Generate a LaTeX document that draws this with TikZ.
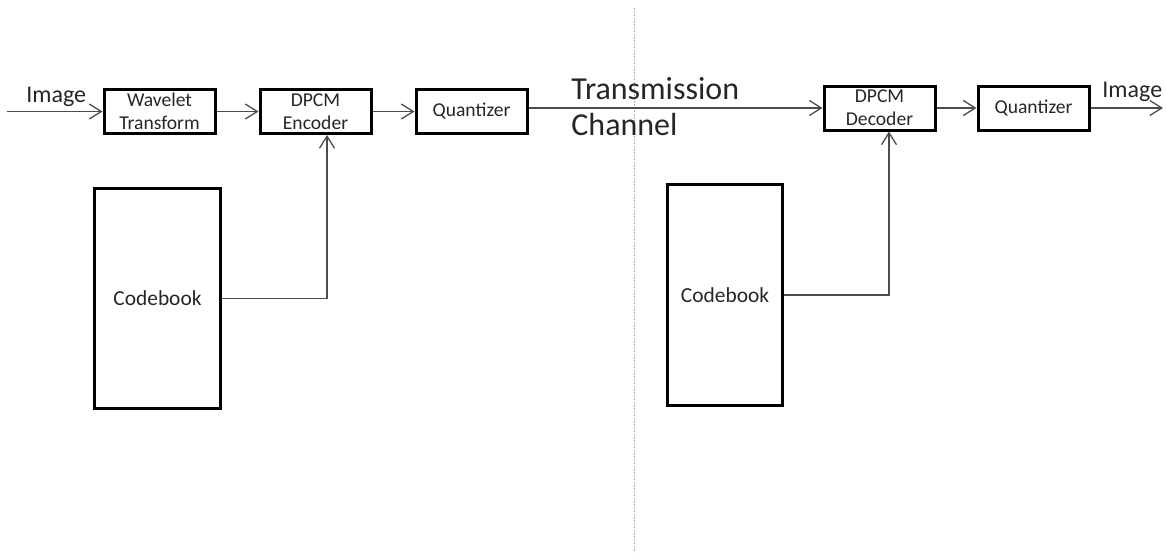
\documentclass[tikz,border=0pt]{standalone}
\usepackage{fontspec}
\setmainfont{Carlito}
\usetikzlibrary{arrows.meta, positioning}

\tikzset{
  block/.style={draw, line width=1.5pt, minimum width=55.5pt, minimum height=22pt,
    inner xsep=2pt, inner ysep=0pt, align=center, text=black!85,
    font=\fontsize{9.8}{11.5}\selectfont},
  codebook/.style={draw, line width=1.5pt, minimum height=110pt, align=center,
    text=black!85, font=\fontsize{10.7}{13}\selectfont},
  wire/.style={line width=0.65pt, draw=black!70},
  arrowline/.style={wire, -{Straight Barb[length=6pt, width=7.5pt]}},
  chantext/.style={font=\fontsize{16}{18}\selectfont, text=black!85, inner sep=0pt, anchor=base west},
  iotext/.style={font=\fontsize{12}{14}\selectfont, text=black!85, inner sep=0pt, anchor=base west},
  sepline/.style={line width=0.5pt, draw=black!30, dash pattern=on 1pt off 0.6pt},
}

\begin{document}
\begin{tikzpicture}[x=0.5pt, y=-0.5pt]
\useasboundingbox (0,0) rectangle (1166,558);

% divider between sender and receiver
\draw[sepline] (634,8) -- (634,552);

% sender side
\node[block] (wavelet) at (159.5,111.5) {Wavelet\\Transform};
\node[block, right=21pt of wavelet] (encoder) {DPCM\\Encoder};
\node[block, right=21pt of encoder] (quant) {Quantizer};
\node[codebook, minimum width=63pt] (cbenc) at (157.5,298.5) {Codebook};

% receiver side
\node[block] (decoder) at (879.5,108) {DPCM\\Decoder};
\node[block, right=20pt of decoder] (dequant) {Quantizer};
\node[codebook, minimum width=57.5pt, minimum height=110.5pt] (cbdec) at (725,295) {Codebook};

\coordinate (imgin) at (7,111.5);
\coordinate (imgout) at (1163,108);
\node[iotext] (inlabel) at (26,102) {Image};
\node[iotext] (outlabel) at (1102,97) {Image};
\node[chantext] (trans) at (571,99) {Transmission};
\node[chantext] (chan) at (571,135) {Channel};

\draw[arrowline] (imgin) -- (wavelet);
\draw[arrowline] (wavelet) -- (encoder);
\draw[arrowline] (encoder) -- (quant);
\draw[arrowline] (quant.east |- decoder.west) -- (decoder);
\draw[arrowline] (decoder) -- (dequant);
\draw[arrowline] (dequant) -- (imgout);
\draw[arrowline] (cbenc) -| ([xshift=5.75pt]encoder.south);
\draw[arrowline] (cbdec) -| ([xshift=4.75pt]decoder.south);
\end{tikzpicture}
\end{document}
